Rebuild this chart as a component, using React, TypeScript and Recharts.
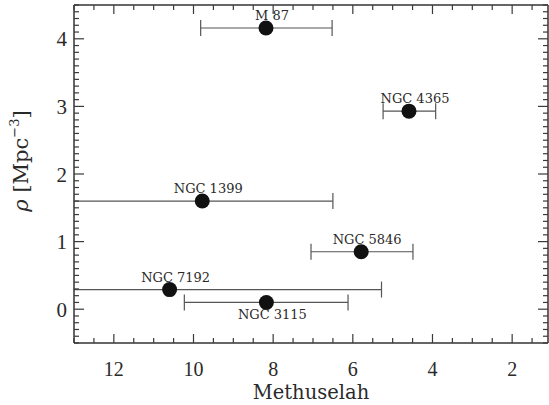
import React from 'react';
import { ScatterChart, Scatter, XAxis, YAxis, ErrorBar } from 'recharts';

// ---- data ----
const galaxies = ['M 87', 'NGC 4365', 'NGC 1399', 'NGC 5846', 'NGC 7192', 'NGC 3115'];
const methuselah = [8.18, 4.59, 9.78, 5.79, 10.6, 8.17];
const rho = [4.16, 2.93, 1.6, 0.85, 0.29, 0.1];
// horizontal error-bar ends (low = right end on the reversed axis, high = left end)
const methuselahLow = [6.52, 3.92, 6.5, 4.49, 5.28, 6.12];
const methuselahHigh = [9.82, 5.24, 13.6, 7.05, 13.6, 10.23];
const labelSide = ['above', 'above', 'above', 'above', 'above', 'below'];

const xTickLabels = [12, 10, 8, 6, 4, 2];
const yTickLabels = [0, 1, 2, 3, 4];
const xTicks: number[] = [];
for (let k = 3; k <= 26; k++) xTicks.push(k / 2);
const yTicks: number[] = [];
for (let k = -5; k <= 45; k++) yTicks.push(Math.round(k) / 10);

const rows = galaxies.map((name, i) => ({
  name,
  x: methuselah[i],
  y: rho[i],
  xErr: [methuselah[i] - methuselahLow[i], methuselahHigh[i] - methuselah[i]],
  side: labelSide[i],
}));

const FRAME = '#333';
const TICK = '#3a3a3a';
const TEXT = '#2a2a2a';

const XTick = (props: any) => {
  const { x, y, payload, side } = props;
  const v = Number(payload.value);
  const major = xTickLabels.includes(v);
  const len = major ? 9 : 5;
  const X = Number(x);
  const Y = Number(y);
  const top = side === 'bottom' ? Y - len : Y;
  return (
    <g>
      <rect x={X - 0.6} y={top} width={1.2} height={len} fill={TICK} />
      {side === 'bottom' && major && (
        <text x={X} y={Y + 33} textAnchor="middle" fontFamily="Liberation Serif" fontSize={20} fill={TEXT}>
          {v}
        </text>
      )}
    </g>
  );
};

const YTick = (props: any) => {
  const { x, y, payload, side } = props;
  const v = Number(payload.value);
  const major = yTickLabels.includes(v);
  const len = major ? 10 : 5;
  const X = Number(x);
  const Y = Number(y);
  const left = side === 'left' ? X : X - len;
  return (
    <g>
      <rect x={left} y={Y - 0.6} width={len} height={1.2} fill={TICK} />
      {side === 'left' && major && (
        <text x={X - 7} y={Y + 7.5} textAnchor="end" fontFamily="Liberation Serif" fontSize={21} fill={TEXT}>
          {v}
        </text>
      )}
    </g>
  );
};

const Dot = (props: any) => {
  const { cx, cy, payload } = props;
  const below = payload.side === 'below';
  return (
    <g>
      <circle cx={cx} cy={cy} r={7.5} fill="#111" />
      <text x={cx + 6} y={below ? cy + 17 : cy - 8} textAnchor="middle" fontFamily="DejaVu Serif" fontSize={13} fill={TEXT}>
        {payload.name}
      </text>
    </g>
  );
};

export default function App() {
  return (
    <div style={{ position: 'absolute', left: 0, top: 0, width: 549, height: 405, background: '#fff' }}>
      <ScatterChart width={549} height={405} margin={{ top: 4, right: 0, bottom: 0, left: 0 }}>
        <defs>
          <clipPath id="plot-area-clip">
            <rect x={74} y={5} width={474} height={338} />
          </clipPath>
        </defs>
        <XAxis
          xAxisId="b"
          type="number"
          dataKey="x"
          domain={[1.1, 13]}
          reversed
          allowDataOverflow
          ticks={xTicks}
          interval={0}
          tickSize={0}
          tickMargin={0}
          tickLine={false}
          height={62}
          axisLine={{ stroke: FRAME, strokeWidth: 1.5 }}
          tick={(p: any) => <XTick {...p} side="bottom" />}
          label={{
            content: (lp: any) => {
              const vb = lp.viewBox || { x: 74, y: 343, width: 474 };
              return (
                <text x={vb.x + vb.width / 2} y={vb.y + 56} textAnchor="middle" fontFamily="DejaVu Serif" fontSize={19.5} fill={TEXT}>
                  Methuselah
                </text>
              );
            },
          }}
        />
        <XAxis
          xAxisId="t"
          orientation="top"
          type="number"
          dataKey="x"
          domain={[1.1, 13]}
          reversed
          allowDataOverflow
          ticks={xTicks}
          interval={0}
          tickSize={0}
          tickMargin={0}
          tickLine={false}
          height={1}
          axisLine={{ stroke: FRAME, strokeWidth: 1.5 }}
          tick={(p: any) => <XTick {...p} side="top" />}
        />
        <YAxis
          yAxisId="l"
          type="number"
          dataKey="y"
          domain={[-0.5, 4.5]}
          allowDataOverflow
          ticks={yTicks}
          interval={0}
          tickSize={0}
          tickMargin={0}
          tickLine={false}
          width={74}
          axisLine={{ stroke: FRAME, strokeWidth: 1.5 }}
          tick={(p: any) => <YTick {...p} side="left" />}
          label={{
            content: () => (
              <text x={28} y={161} transform="rotate(-90, 28, 161)" textAnchor="middle" fontFamily="DejaVu Serif" fontSize={21} fill={TEXT}>
                <tspan fontStyle="italic">ρ</tspan>
                <tspan> [Mpc</tspan>
                <tspan dy={-9} fontSize={13}>−3</tspan>
                <tspan dy={9}>]</tspan>
              </text>
            ),
          }}
        />
        <YAxis
          yAxisId="r"
          orientation="right"
          type="number"
          dataKey="y"
          domain={[-0.5, 4.5]}
          allowDataOverflow
          ticks={yTicks}
          interval={0}
          tickSize={0}
          tickMargin={0}
          tickLine={false}
          width={1}
          axisLine={{ stroke: FRAME, strokeWidth: 1.5 }}
          tick={(p: any) => <YTick {...p} side="right" />}
        />
        <Scatter data={rows} xAxisId="b" yAxisId="l" shape={Dot} isAnimationActive={false}>
          <ErrorBar dataKey="xErr" direction="x" width={8} stroke="#555" strokeWidth={1.2} clipPath="url(#plot-area-clip)" isAnimationActive={false} />
        </Scatter>
      </ScatterChart>
    </div>
  );
}
